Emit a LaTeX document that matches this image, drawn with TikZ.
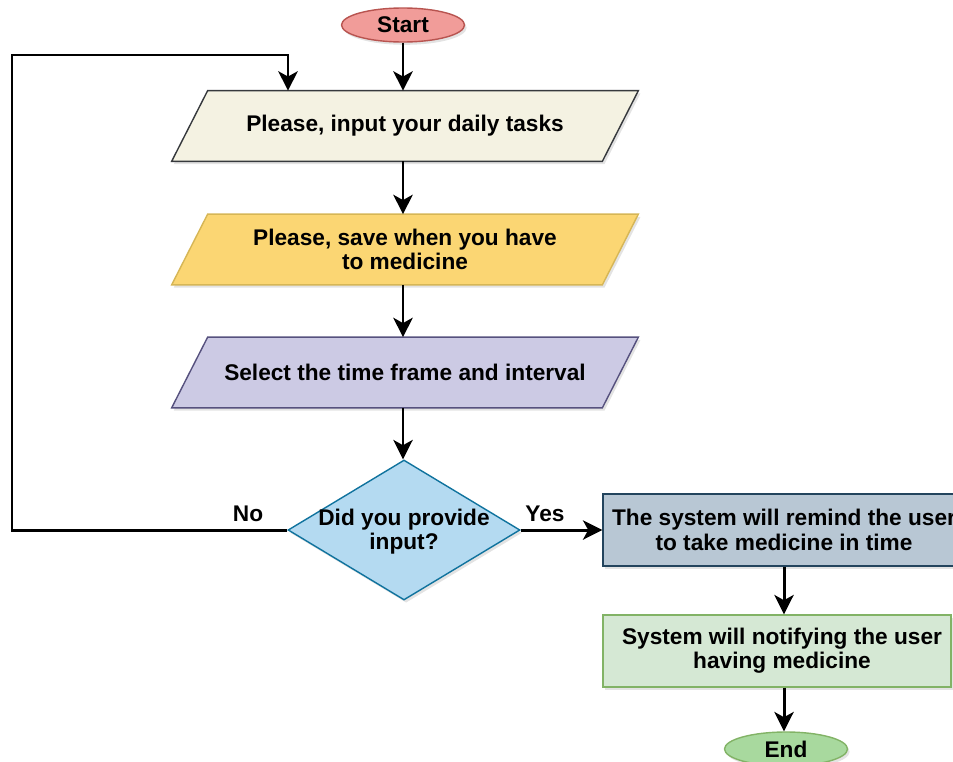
\documentclass[tikz,border=0pt]{standalone}
\usepackage{fontspec}
\setmainfont{Liberation Sans}
\usetikzlibrary{shapes.geometric,arrows.meta,calc,shadows}
\pgfdeclarelayer{background}
\pgfsetlayers{background,main}
\newcommand{\pxl}{0.02cm}

\definecolor{startfill}{HTML}{F19C99}
\definecolor{startline}{HTML}{B85450}
\definecolor{inputfill}{HTML}{F4F2E2}
\definecolor{inputline}{HTML}{36393D}
\definecolor{savefill}{HTML}{FBD673}
\definecolor{saveline}{HTML}{D6B656}
\definecolor{selfill}{HTML}{CCCAE4}
\definecolor{selline}{HTML}{56517E}
\definecolor{askfill}{HTML}{B4DAF1}
\definecolor{askline}{HTML}{10739E}
\definecolor{remfill}{HTML}{B8C7D4}
\definecolor{remline}{HTML}{23445D}
\definecolor{notfill}{HTML}{D5E8D4}
\definecolor{notline}{HTML}{82B366}
\definecolor{endfill}{HTML}{A8D99E}

\begin{document}
\begin{tikzpicture}[x=0.02cm, y=-0.02cm,
  font=\fontsize{12.9}{13.8}\selectfont\bfseries,
  shade/.style={drop shadow={opacity=0.22, shadow xshift=1.2pt, shadow yshift=-1.6pt}},
  terminal/.style={ellipse, draw, line width=0.8pt, shade, minimum width=123*\pxl, minimum height=34*\pxl, inner sep=0pt},
  iobox/.style={minimum width=430*\pxl, minimum height=70*\pxl, inner sep=0pt, align=center},
  para/.style={line width=0.8pt, shade},
  decision/.style={diamond, draw, line width=0.8pt, shade, minimum width=232*\pxl, minimum height=140*\pxl, inner sep=0pt},
  procbox/.style={rectangle, draw, line width=0.8pt, shade, minimum height=72*\pxl, align=center, inner sep=0pt},
  flow/.style={line width=1.7pt, -{Stealth[length=11pt, width=11pt, inset=3pt]}},
  tag/.style={inner sep=0pt}
]
\useasboundingbox (0,0) rectangle (953,761);

% terminals
\node[terminal, fill=startfill, draw=startline] (start) at (403,25) {Start};
\node[terminal, fill=endfill, draw=notline] (end) at (786,749) {End};

% input / output steps (parallelograms drawn behind the text nodes)
\node[iobox] (tasks) at (405,126) {Please, input your daily tasks};
\node[iobox] (save) at (405,249.5) {Please, save when you have\\to medicine};
\node[iobox] (frame) at (405,372.5) {Select the time frame and interval};

\begin{pgfonlayer}{background}
\foreach \n/\f/\l in {tasks/inputfill/inputline, save/savefill/saveline, frame/selfill/selline}{
  \draw[para, fill=\f, draw=\l]
    ($(\n.north west)+(18,0)$) -- ($(\n.north east)+(18,0)$) --
    ($(\n.south east)+(-18,0)$) -- ($(\n.south west)+(-18,0)$) -- cycle;
}
\end{pgfonlayer}

% decision
\node[decision, fill=askfill, draw=askline] (ask) at (404,530) {};
\node[align=center, inner sep=0pt] (asktext) at (404,532) {Did you provide\\input?};

% process steps
\node[procbox, fill=remfill, draw=remline, minimum width=362*\pxl] (remind) at (784,530)
  {The system will remind the user\\to take medicine in time};
\node[procbox, fill=notfill, draw=notline, minimum width=348*\pxl] (notify) at (777,651)
  {\hspace*{0.2cm}System will notifying the user\\\hspace*{0.2cm}having medicine};

% connectors
\draw[flow] (start.south) -- (start.south |- tasks.north);
\draw[flow] (tasks.south -| start) -- (save.north -| start);
\draw[flow] (save.south -| start) -- (frame.north -| start);
\draw[flow] (frame.south -| start) -- (ask.north -| start);
\draw[flow] (ask.east) -- (remind.west);
\draw[flow] (remind.south) -- (remind.south |- notify.north);
\draw[flow] (notify.south -| remind.south) -- (end.north -| remind.south);

\coordinate (corner) at (12,55);
\coordinate (entry) at (288,55);
\draw[flow] (ask.west) -| (corner) -- (entry) -- (entry |- tasks.north);

% branch labels
\node[tag] (no) at (248,514) {No};
\node[tag] (yes) at (545,514) {Yes};
\end{tikzpicture}
\end{document}
